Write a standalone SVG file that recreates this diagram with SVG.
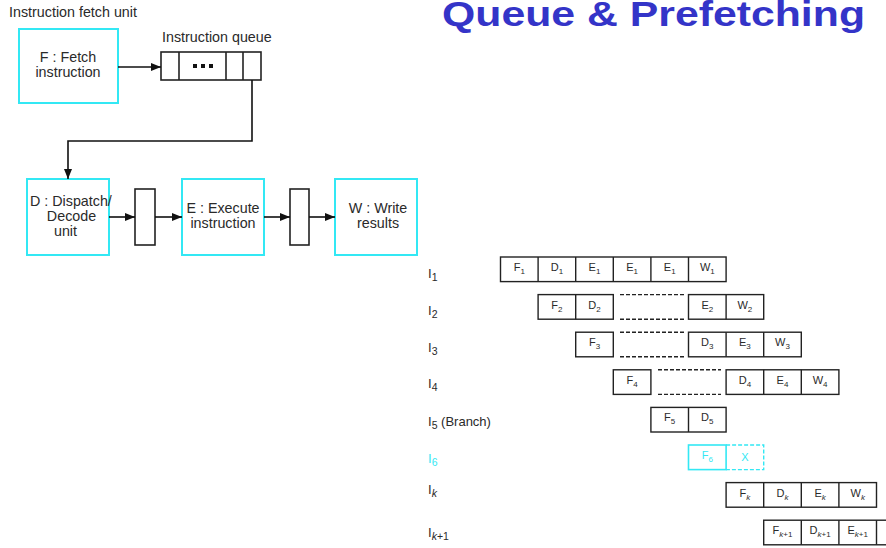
<svg xmlns="http://www.w3.org/2000/svg" width="886" height="548" viewBox="0 0 886 548">
<defs>
<style>
text{font-family:"Liberation Sans",Arial,sans-serif;fill:#2a2a2a}
.t{font-size:14.3px}
.c{font-size:11px;text-anchor:middle}
.s{font-size:8px}
.l{font-size:13px}
.ls{font-size:10.5px}
.node{fill:#fff;stroke:#33e8f4;stroke-width:2}
.reg{fill:#fff;stroke:#222;stroke-width:1.6}
.cell{fill:#fff;stroke:#222;stroke-width:1.4}
.dash{stroke:#222;stroke-width:1.4;stroke-dasharray:4 2;fill:none}
.wire{stroke:#111;stroke-width:1.6;fill:none}
</style>
<marker id="ah" markerUnits="userSpaceOnUse" markerWidth="10" markerHeight="8" refX="10" refY="4" orient="auto">
<path d="M0,0 L10,4 L0,8 Z" fill="#111"/>
</marker>
</defs>
<rect width="886" height="548" fill="#fff"/>

<text x="442" y="26" style="font-family:'Liberation Sans',Arial,sans-serif;font-weight:bold;font-size:35px;fill:#3434c8" textLength="423" lengthAdjust="spacingAndGlyphs">Queue &amp; Prefetching</text>

<text class="t" x="9" y="17">Instruction fetch unit</text>

<g id="fetch">
<rect class="node" x="19" y="29" width="99" height="74"/>
<text class="t" x="68" y="61.5" text-anchor="middle">F : Fetch</text>
<text class="t" x="68" y="76.5" text-anchor="middle">instruction</text>
</g>

<g id="queue">
<text class="t" x="162" y="42">Instruction queue</text>
<rect class="reg" x="161" y="52" width="100" height="28"/>
<line class="reg" x1="179" y1="52" x2="179" y2="80"/>
<line class="reg" x1="226" y1="52" x2="226" y2="80"/>
<line class="reg" x1="243" y1="52" x2="243" y2="80"/>
<rect x="193" y="64" width="4" height="4" fill="#111"/>
<rect x="201" y="64" width="4" height="4" fill="#111"/>
<rect x="209" y="64" width="4" height="4" fill="#111"/>
</g>

<g id="decode">
<rect class="node" x="27" y="179" width="82" height="76"/>
<text class="t" x="30" y="205.5">D : Dispatch/</text>
<text class="t" x="71.5" y="220.5" text-anchor="middle">Decode</text>
<text class="t" x="65.5" y="236" text-anchor="middle">unit</text>
</g>

<g id="reg1"><rect class="reg" x="135" y="189" width="20" height="56"/></g>

<g id="execute">
<rect class="node" x="182" y="179" width="82" height="76"/>
<text class="t" x="223" y="212.5" text-anchor="middle">E : Execute</text>
<text class="t" x="223" y="227.5" text-anchor="middle">instruction</text>
</g>

<g id="reg2"><rect class="reg" x="290" y="189" width="19" height="56"/></g>

<g id="write">
<rect class="node" x="335" y="179" width="82" height="76"/>
<text class="t" x="378" y="212.5" text-anchor="middle">W : Write</text>
<text class="t" x="378" y="227.5" text-anchor="middle">results</text>
</g>

<g id="connectors">
<line class="wire" x1="118" y1="67" x2="161" y2="67" marker-end="url(#ah)"/>
<polyline class="wire" points="252,80 252,141 68,141 68,179" marker-end="url(#ah)"/>
<line class="wire" x1="109" y1="217" x2="135" y2="217" marker-end="url(#ah)"/>
<line class="wire" x1="155" y1="217" x2="182" y2="217" marker-end="url(#ah)"/>
<line class="wire" x1="264" y1="217" x2="290" y2="217" marker-end="url(#ah)"/>
<line class="wire" x1="309" y1="217" x2="335" y2="217" marker-end="url(#ah)"/>
</g>

<g id="labels">
<text class="l" x="428" y="277.5">I<tspan class="ls" dy="3">1</tspan></text>
<text class="l" x="428" y="315">I<tspan class="ls" dy="3">2</tspan></text>
<text class="l" x="428" y="352">I<tspan class="ls" dy="3">3</tspan></text>
<text class="l" x="428" y="388">I<tspan class="ls" dy="3">4</tspan></text>
<text class="l" x="428" y="425.5">I<tspan class="ls" dy="3">5</tspan><tspan dy="-3"> (Branch)</tspan></text>
<text class="l" x="428" y="463" style="fill:#33e8f4">I<tspan class="ls" dy="3">6</tspan></text>
<text class="l" x="428" y="494">I<tspan class="ls" dy="3" font-style="italic">k</tspan></text>
<text class="l" x="428" y="537">I<tspan class="ls" dy="3"><tspan font-style="italic">k</tspan>+1</tspan></text>
</g>

<g id="row1">
<rect class="cell" x="500.5" y="257" width="225.6" height="24.6"/>
<line class="cell" x1="538.1" y1="257" x2="538.1" y2="281.6"/>
<line class="cell" x1="575.7" y1="257" x2="575.7" y2="281.6"/>
<line class="cell" x1="613.3" y1="257" x2="613.3" y2="281.6"/>
<line class="cell" x1="650.9" y1="257" x2="650.9" y2="281.6"/>
<line class="cell" x1="688.5" y1="257" x2="688.5" y2="281.6"/>
<text class="c" x="519.3" y="271">F<tspan class="s" dy="3">1</tspan></text>
<text class="c" x="556.9" y="271">D<tspan class="s" dy="3">1</tspan></text>
<text class="c" x="594.5" y="271">E<tspan class="s" dy="3">1</tspan></text>
<text class="c" x="632.1" y="271">E<tspan class="s" dy="3">1</tspan></text>
<text class="c" x="669.7" y="271">E<tspan class="s" dy="3">1</tspan></text>
<text class="c" x="707.3" y="271">W<tspan class="s" dy="3">1</tspan></text>
</g>

<g id="row2">
<rect class="cell" x="538.1" y="294.6" width="75.2" height="24.6"/>
<line class="cell" x1="575.7" y1="294.6" x2="575.7" y2="319.2"/>
<line class="dash" x1="620" y1="294.6" x2="684" y2="294.6"/>
<line class="dash" x1="620" y1="319.2" x2="684" y2="319.2"/>
<rect class="cell" x="688.5" y="294.6" width="75.2" height="24.6"/>
<line class="cell" x1="726.1" y1="294.6" x2="726.1" y2="319.2"/>
<text class="c" x="556.9" y="308.6">F<tspan class="s" dy="3">2</tspan></text>
<text class="c" x="594.5" y="308.6">D<tspan class="s" dy="3">2</tspan></text>
<text class="c" x="707.3" y="308.6">E<tspan class="s" dy="3">2</tspan></text>
<text class="c" x="744.9" y="308.6">W<tspan class="s" dy="3">2</tspan></text>
</g>

<g id="row3">
<rect class="cell" x="575.7" y="332.2" width="37.6" height="24.6"/>
<line class="dash" x1="620" y1="332.2" x2="684" y2="332.2"/>
<line class="dash" x1="620" y1="356.8" x2="684" y2="356.8"/>
<rect class="cell" x="688.5" y="332.2" width="112.8" height="24.6"/>
<line class="cell" x1="726.1" y1="332.2" x2="726.1" y2="356.8"/>
<line class="cell" x1="763.7" y1="332.2" x2="763.7" y2="356.8"/>
<text class="c" x="594.5" y="346.2">F<tspan class="s" dy="3">3</tspan></text>
<text class="c" x="707.3" y="346.2">D<tspan class="s" dy="3">3</tspan></text>
<text class="c" x="744.9" y="346.2">E<tspan class="s" dy="3">3</tspan></text>
<text class="c" x="782.5" y="346.2">W<tspan class="s" dy="3">3</tspan></text>
</g>

<g id="row4">
<rect class="cell" x="613.3" y="369.8" width="37.6" height="24.6"/>
<line class="dash" x1="658" y1="369.8" x2="721" y2="369.8"/>
<line class="dash" x1="658" y1="394.4" x2="721" y2="394.4"/>
<rect class="cell" x="726.1" y="369.8" width="112.8" height="24.6"/>
<line class="cell" x1="763.7" y1="369.8" x2="763.7" y2="394.4"/>
<line class="cell" x1="801.3" y1="369.8" x2="801.3" y2="394.4"/>
<text class="c" x="632.1" y="383.8">F<tspan class="s" dy="3">4</tspan></text>
<text class="c" x="744.9" y="383.8">D<tspan class="s" dy="3">4</tspan></text>
<text class="c" x="782.5" y="383.8">E<tspan class="s" dy="3">4</tspan></text>
<text class="c" x="820.1" y="383.8">W<tspan class="s" dy="3">4</tspan></text>
</g>

<g id="row5">
<rect class="cell" x="650.9" y="407.4" width="75.2" height="24.6"/>
<line class="cell" x1="688.5" y1="407.4" x2="688.5" y2="432"/>
<text class="c" x="669.7" y="421.4">F<tspan class="s" dy="3">5</tspan></text>
<text class="c" x="707.3" y="421.4">D<tspan class="s" dy="3">5</tspan></text>
</g>

<g id="row6">
<path d="M726.1,445 H763.7 V469.6 H726.1" fill="none" stroke="#33e8f4" stroke-width="1.4" stroke-dasharray="4 2"/>
<rect x="688.5" y="445" width="37.6" height="24.6" fill="none" stroke="#33e8f4" stroke-width="1.6"/>
<text class="c" x="707.3" y="459" style="fill:#33e8f4">F<tspan class="s" dy="3">6</tspan></text>
<text class="c" x="744.9" y="461" style="fill:#33e8f4">X</text>
</g>

<g id="rowk">
<rect class="cell" x="726.1" y="482.6" width="150.4" height="24.6"/>
<line class="cell" x1="763.7" y1="482.6" x2="763.7" y2="507.2"/>
<line class="cell" x1="801.3" y1="482.6" x2="801.3" y2="507.2"/>
<line class="cell" x1="838.9" y1="482.6" x2="838.9" y2="507.2"/>
<text class="c" x="744.9" y="496.6">F<tspan class="s" dy="3" font-style="italic">k</tspan></text>
<text class="c" x="782.5" y="496.6">D<tspan class="s" dy="3" font-style="italic">k</tspan></text>
<text class="c" x="820.1" y="496.6">E<tspan class="s" dy="3" font-style="italic">k</tspan></text>
<text class="c" x="857.7" y="496.6">W<tspan class="s" dy="3" font-style="italic">k</tspan></text>
</g>

<g id="rowk1">
<rect class="cell" x="763.7" y="520.2" width="150.4" height="24.6"/>
<line class="cell" x1="801.3" y1="520.2" x2="801.3" y2="544.8"/>
<line class="cell" x1="838.9" y1="520.2" x2="838.9" y2="544.8"/>
<line class="cell" x1="876.5" y1="520.2" x2="876.5" y2="544.8"/>
<text class="c" x="782.5" y="534.2">F<tspan class="s" dy="3"><tspan font-style="italic">k</tspan>+1</tspan></text>
<text class="c" x="820.1" y="534.2">D<tspan class="s" dy="3"><tspan font-style="italic">k</tspan>+1</tspan></text>
<text class="c" x="857.7" y="534.2">E<tspan class="s" dy="3"><tspan font-style="italic">k</tspan>+1</tspan></text>
</g>
</svg>
